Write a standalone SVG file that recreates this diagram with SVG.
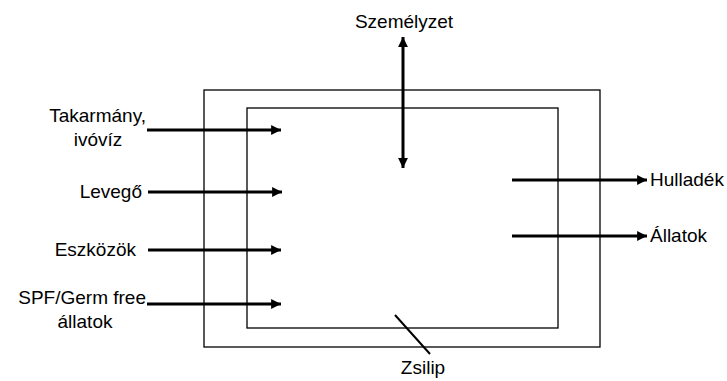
<svg xmlns="http://www.w3.org/2000/svg" width="727" height="381" viewBox="0 0 727 381">
  <style>
    .wall { fill: none; stroke: #000; stroke-width: 1.3; }
    .flow { stroke: #000; stroke-width: 3; fill: none; }
    .lbl { font-family: "Liberation Sans", Arial, sans-serif; font-size: 19px; fill: #000; }
    .r { text-anchor: end; }
    .m { text-anchor: middle; }
  </style>
  <defs>
    <marker id="head" viewBox="0 0 10 10" refX="10" refY="5" markerWidth="3.3" markerHeight="3.3" orient="auto-start-reverse" markerUnits="strokeWidth">
      <path d="M0,0 L10,5 L0,10 Z" fill="#000"/>
    </marker>
  </defs>
  <rect width="727" height="381" fill="#fff"/>

  <g id="outer-barrier"><rect class="wall" x="204" y="90" width="396" height="257"/></g>
  <g id="inner-room"><rect class="wall" x="247" y="108" width="311" height="220"/></g>

  <g id="connectors">
    <line class="flow" x1="147" y1="130" x2="281" y2="130" marker-end="url(#head)"/>
    <line class="flow" x1="148" y1="192" x2="282" y2="192" marker-end="url(#head)"/>
    <line class="flow" x1="148" y1="250" x2="281" y2="250" marker-end="url(#head)"/>
    <line class="flow" x1="147" y1="304" x2="281" y2="304" marker-end="url(#head)"/>
    <line class="flow" x1="403" y1="37" x2="403" y2="168" marker-start="url(#head)" marker-end="url(#head)"/>
    <line class="flow" x1="512" y1="180" x2="647" y2="180" marker-end="url(#head)"/>
    <line class="flow" x1="512" y1="236" x2="647" y2="236" marker-end="url(#head)"/>
    <line stroke="#000" stroke-width="2" x1="395" y1="315" x2="430" y2="354"/>
  </g>

  <g id="szemelyzet"><text class="lbl m" x="404" y="28">Személyzet</text></g>
  <g id="takarmany"><text class="lbl r" x="146" y="122">Takarmány,</text><text class="lbl m" x="98" y="146">ivóvíz</text></g>
  <g id="levego"><text class="lbl r" x="142" y="198">Levegő</text></g>
  <g id="eszkozok"><text class="lbl r" x="136" y="256">Eszközök</text></g>
  <g id="spf"><text class="lbl r" x="146" y="304">SPF/Germ free</text><text class="lbl m" x="85" y="328">állatok</text></g>
  <g id="hulladek"><text class="lbl" x="650" y="186">Hulladék</text></g>
  <g id="allatok"><text class="lbl" x="650" y="242">Állatok</text></g>
  <g id="zsilip"><text class="lbl m" x="423" y="374">Zsilip</text></g>
</svg>
